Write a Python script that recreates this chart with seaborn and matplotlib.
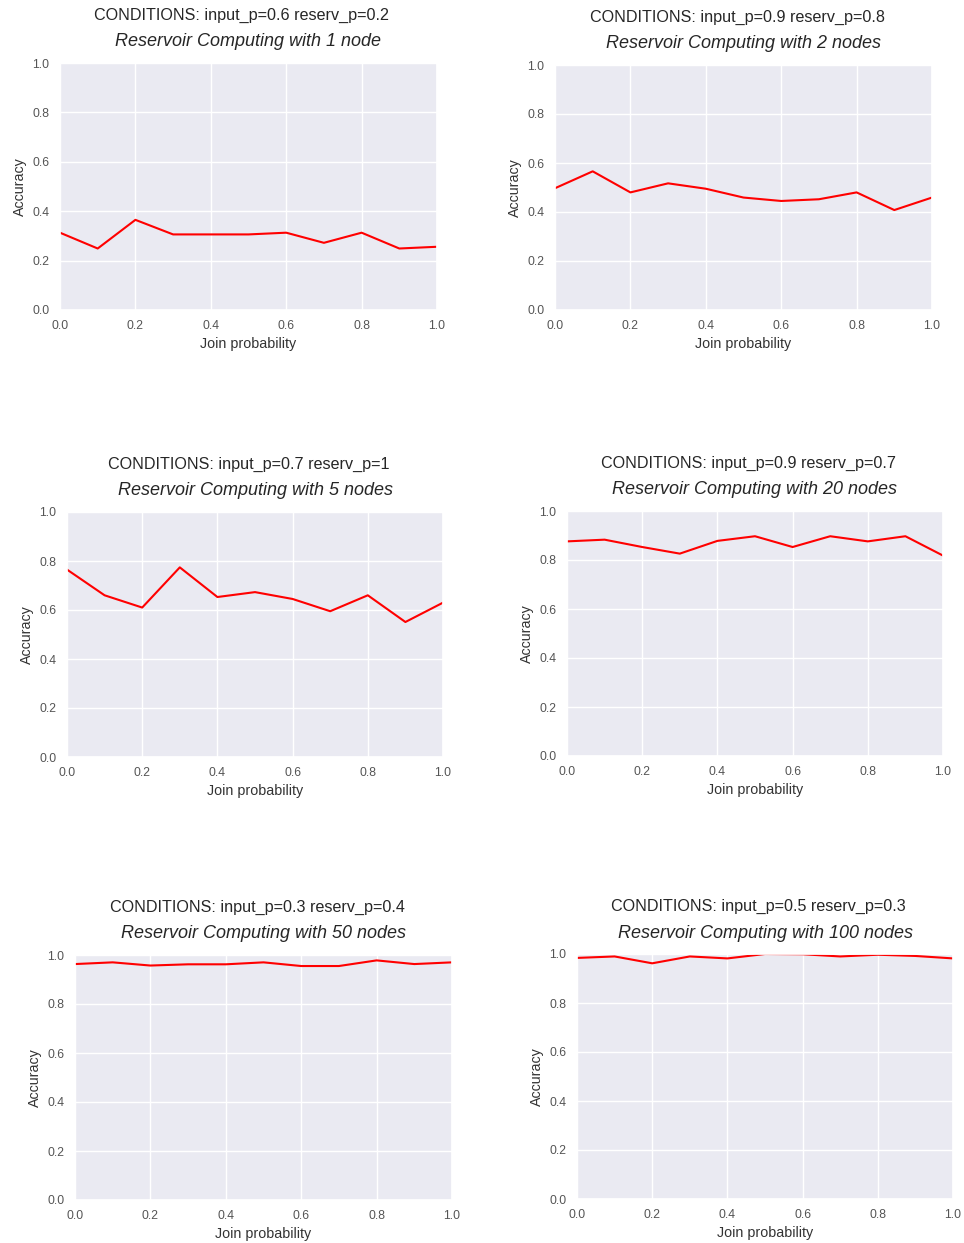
import matplotlib
matplotlib.use("Agg")
import matplotlib.pyplot as plt
import numpy as np
import pandas as pd
import seaborn as sns

# Join probabilities swept in every experiment
join_prob = [0.0, 0.1, 0.2, 0.3, 0.4, 0.5, 0.6, 0.7, 0.8, 0.9, 1.0]

# Reservoir sizes and the input/reservoir probabilities used for each run
n_nodes = [1, 2, 5, 20, 50, 100]
input_p = ["0.6", "0.9", "0.7", "0.9", "0.3", "0.5"]
reserv_p = ["0.2", "0.8", "1", "0.7", "0.4", "0.3"]

# Accuracy per join probability for each reservoir size
acc_1 = [0.313, 0.249, 0.365, 0.306, 0.306, 0.306, 0.313, 0.272, 0.313, 0.249, 0.256]
acc_2 = [0.497, 0.566, 0.480, 0.517, 0.495, 0.459, 0.445, 0.452, 0.480, 0.408, 0.459]
acc_5 = [0.765, 0.660, 0.610, 0.774, 0.653, 0.673, 0.645, 0.595, 0.660, 0.551, 0.630]
acc_20 = [0.876, 0.883, 0.853, 0.826, 0.878, 0.897, 0.853, 0.897, 0.876, 0.897, 0.818]
acc_50 = [0.963, 0.970, 0.957, 0.962, 0.962, 0.970, 0.955, 0.955, 0.978, 0.963, 0.970]
acc_100 = [0.984, 0.990, 0.962, 0.990, 0.982, 1.000, 0.999, 0.990, 0.997, 0.992, 0.982]
accuracies = [acc_1, acc_2, acc_5, acc_20, acc_50, acc_100]

sns.set_theme(style="darkgrid")
plt.rcParams["font.family"] = ["Liberation Sans", "DejaVu Sans"]

W, H = 964, 1243
fig = plt.figure(figsize=(W / 100, H / 100), dpi=100)

# Axes boxes in pixels: left, top, right, bottom
boxes = [
    (60, 63, 437, 310),
    (555, 65, 932, 310),
    (67, 512, 443, 757),
    (567, 511, 943, 756),
    (75, 955, 452, 1200),
    (577, 954, 953, 1199),
]

for i, (l, t, r, b) in enumerate(boxes):
    ax = fig.add_axes([l / W, 1 - b / H, (r - l) / W, (b - t) / H])
    df = pd.DataFrame({"Join probability": join_prob, "Accuracy": accuracies[i]})
    sns.lineplot(data=df, x="Join probability", y="Accuracy", ax=ax,
                 color="red", linewidth=1.5)
    ax.set_xlim(0, 1)
    ax.set_ylim(0, 1)
    ax.set_xticks(np.arange(0, 1.01, 0.2))
    ax.set_yticks(np.arange(0, 1.01, 0.2))
    ax.tick_params(labelsize=8.8, colors="#555555", length=0, pad=7.5)
    ax.set_xlabel("Join probability", fontsize=10.3, color="#333333", labelpad=3)
    ax.set_ylabel("Accuracy", fontsize=10.3, color="#333333", labelpad=4)

    cx = (l + r) / 2
    node_word = "node" if n_nodes[i] == 1 else "nodes"
    fig.text((cx - 6.5) / W, 1 - (t - 48) / H,
             f"CONDITIONS: input_p={input_p[i]} reserv_p={reserv_p[i]}",
             ha="center", va="center", fontsize=11.6, color="#262626")
    fig.text(cx / W, 1 - (t - 21) / H,
             f"Reservoir Computing with {n_nodes[i]} {node_word}",
             ha="center", va="center", fontsize=13, style="italic", color="#262626")

fig.savefig("out.png", dpi=100, facecolor="white")
